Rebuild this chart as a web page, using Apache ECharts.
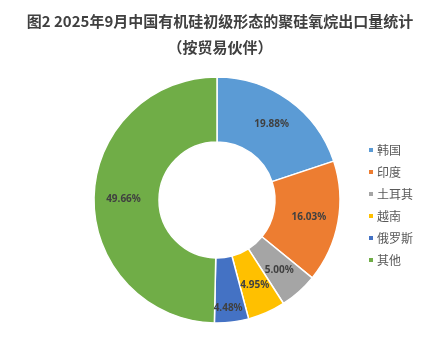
<!DOCTYPE html>
<html>
<head>
<meta charset="utf-8">
<script src="https://cdn.jsdelivr.net/npm/echarts@6/dist/echarts.min.js"></script>
<style>
  html, body { margin: 0; padding: 0; background: #fff; }
  #main { width: 440px; height: 353px; }
</style>
</head>
<body>
<div id="main"></div>
<script>
// 贸易伙伴及占比(%)
const partners = ['韩国', '印度', '土耳其', '越南', '俄罗斯', '其他'];
const shares = [19.88, 16.03, 5.00, 4.95, 4.48, 49.66];
const colors = ['#5B9BD5', '#ED7D31', '#A5A5A5', '#FFC000', '#4472C4', '#70AD47'];

const chart = echarts.init(document.getElementById('main'));

const option = {
  animation: false,
  color: colors,
  title: {
    text: '图2 2025年9月中国有机硅初级形态的聚硅氧烷出口量统计\n（按贸易伙伴）',
    left: 'center',
    top: 3,
    textStyle: {
      fontFamily: 'Noto Sans CJK SC',
      fontSize: 15,
      fontWeight: 'bold',
      color: '#404040',
      lineHeight: 26
    }
  },
  legend: {
    orient: 'vertical',
    left: 362,
    top: 139,
    itemWidth: 6,
    itemHeight: 6,
    itemGap: 10,
    icon: 'rect',
    data: partners,
    textStyle: {
      fontFamily: 'Noto Sans CJK SC',
      fontSize: 12,
      color: '#595959',
      padding: [0, 0, 0, -2]
    }
  },
  series: [{
    type: 'pie',
    center: [217, 200],
    radius: [58, 123],
    startAngle: 90,
    clockwise: true,
    avoidLabelOverlap: false,
    minShowLabelAngle: 0,
    // 俄罗斯的标签在原图中靠近外沿
    labelLayout: p => (p.dataIndex === 4 ? { dy: 15, hideOverlap: false } : { hideOverlap: false }),
    itemStyle: { borderColor: '#fff', borderWidth: 1.5 },
    label: {
      show: true,
      position: 'inside',
      formatter: p => p.value.toFixed(2) + '%',
      fontFamily: 'Noto Sans',
      fontSize: 10,
      fontWeight: 'bold',
      color: '#404040'
    },
    labelLine: { show: false },
    data: partners.map((n, i) => ({ name: n, value: shares[i] }))
  }]
};

chart.setOption(option);
</script>
</body>
</html>
